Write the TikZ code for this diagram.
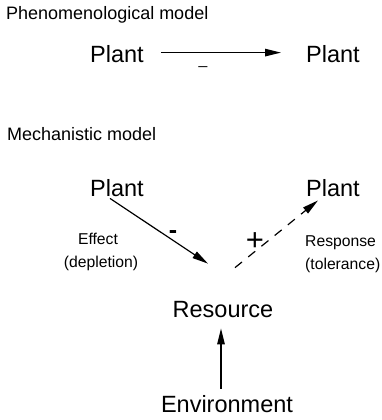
\documentclass[tikz,border=0pt]{standalone}
\usepackage{fontspec}
\setmainfont{Liberation Sans}
\usetikzlibrary{arrows.meta,calc}
\begin{document}
\begin{tikzpicture}[x=1pt,y=-1pt,
  big/.style={font=\fontsize{23.5}{26}\selectfont, inner sep=0pt, anchor=base},
  title/.style={font=\fontsize{18}{21}\selectfont, inner sep=0pt, anchor=base west},
  small/.style={font=\fontsize{15.7}{18}\selectfont, inner sep=0pt},
  conn/.style={line width=1.2pt, -{Triangle[length=16pt,width=7.5pt]}},
  dconn/.style={conn, dash pattern=on 9pt off 8pt}]
\useasboundingbox (0,0) rectangle (381,420);
% Phenomenological model
\node[title] (t1) at (6,20) {Phenomenological model};
\node[big] (p1) at (117,63) {Plant};
\node[big] (p2) at (333,63) {Plant};
\draw[conn] ($(p1.east)+(17,-2)$) -- ($(p2.west)+(-25,-2)$);
\node[small, anchor=base] (m1) at (203,65) {\_};
% Mechanistic model
\node[title] (t2) at (7,140) {Mechanistic model};
\node[big] (p3) at (117,196) {Plant};
\node[big] (p4) at (333,196) {Plant};
\node[big] (res) at (223,317) {Resource};
\node[big] (env) at (227,412) {Environment};
\node[small, anchor=base] (ef) at (98,244) {Effect};
\node[small, anchor=base] (dep) at (101,267) {(depletion)};
\node[small, anchor=base west] (rsp) at (305,246) {Response};
\node[small, anchor=base west] (tol) at (305,269) {(tolerance)};
\node[big, font=\fontsize{25}{26}\selectfont\bfseries] (mn) at (173,238) {-};
\node[big, font=\fontsize{31}{32}\selectfont] (pl) at (255,250) {+};
\draw[conn] ($(p3.south)+(-7,2)$) -- ($(res.north)+(-15,-37)$);
\draw[dconn] ($(res.north)+(12,-33)$) -- ($(p4.south)+(-15,4)$);
\draw[conn] ($(env.north)+(-6,-6)$) -- ($(res.south)+(-2,11)$);
\end{tikzpicture}
\end{document}
